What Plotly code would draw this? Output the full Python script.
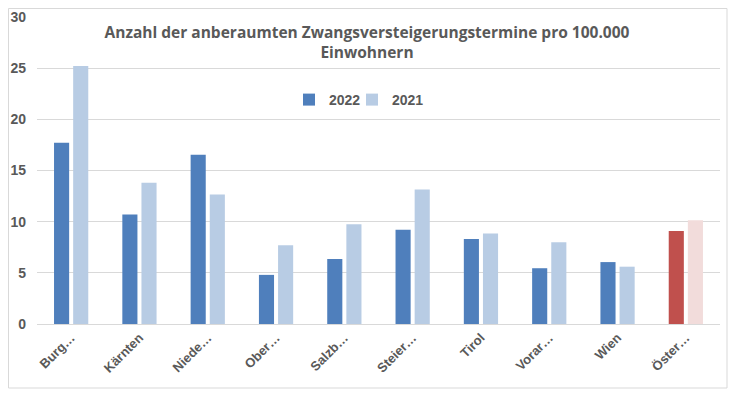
import plotly.graph_objects as go

categories = ["Burg…", "Kärnten", "Niede…", "Ober…", "Salzb…", "Steier…", "Tirol", "Vorar…", "Wien", "Öster…"]
values_2022 = [17.7, 10.7, 16.55, 4.8, 6.35, 9.2, 8.3, 5.45, 6.05, 9.1]
values_2021 = [25.2, 13.8, 12.65, 7.7, 9.75, 13.15, 8.85, 8.0, 5.6, 10.15]
colors_2022 = ["#4F7FBC"] * 9 + ["#C0504D"]
colors_2021 = ["#B8CCE4"] * 9 + ["#F2DCDB"]
title_text = "Anzahl der anberaumten Zwangsversteigerungstermine pro 100.000<br>Einwohnern"

# page body has an 8px margin; figure is sized to fit inside the window
W, H = 721, 383
L, R, T, B = 29, 9, 9, 67
PW, PH = W - L - R, H - T - B

fig = go.Figure()
fig.add_trace(go.Bar(x=categories, y=values_2022, name="2022", legend="legend",
                     marker=dict(color=colors_2022, line=dict(width=0))))
fig.add_trace(go.Bar(x=categories, y=values_2021, name="2021", legend="legend2",
                     marker=dict(color=colors_2021, line=dict(width=0))))

font_lbl = dict(family="Liberation Sans, Arial, sans-serif", size=13, color="#595959", weight="bold")
font_leg = dict(family="Liberation Sans, Arial, sans-serif", size=14, color="#595959", weight="bold")

leg_y = ((H - B) - 92) / PH
leg_common = dict(orientation="h", xref="paper", yref="paper", xanchor="left",
                  yanchor="middle", y=leg_y, font=font_leg, itemwidth=30,
                  bgcolor="rgba(0,0,0,0)", borderwidth=0)

fig.update_layout(
    width=W, height=H,
    margin=dict(l=L, r=R, t=T, b=B, autoexpand=False),
    paper_bgcolor="white", plot_bgcolor="white",
    barmode="group", bargap=0.44, bargroupgap=0.21,
    title=dict(text=title_text, x=359 / W, xref="container", xanchor="center",
               y=1 - 30 / H, yref="container", yanchor="middle",
               font=dict(family="Open Sans, sans-serif", size=15.5, color="#595959", weight="bold")),
    legend=dict(x=(281 - L) / PW, **leg_common),
    legend2=dict(x=(344 - L) / PW, **leg_common),
    showlegend=True,
    shapes=[dict(type="rect", xref="paper", yref="paper",
                 x0=(0.5 - L) / PW, x1=(719 - L) / PW,
                 y0=((H - B) - 380) / PH, y1=((H - B) - 0.5) / PH,
                 line=dict(color="#D9D9D9", width=1), layer="below")],
)
fig.update_xaxes(tickangle=-45, tickfont=font_lbl, showline=True, linecolor="#D9D9D9",
                 linewidth=1, ticks="", showgrid=False)
fig.update_yaxes(range=[0, 30], dtick=5, tickfont=dict(font_lbl, size=14), showgrid=True,
                 gridcolor="#D9D9D9", gridwidth=1, zeroline=False, showline=False, ticks="",
                 ticklabelstandoff=10)

fig.write_html("out.html")
